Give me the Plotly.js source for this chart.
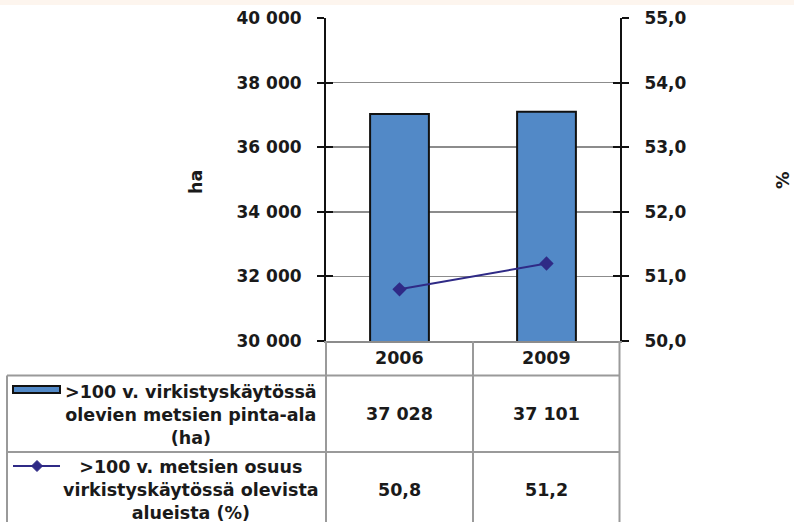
<!DOCTYPE html>
<html>
<head>
<meta charset="utf-8">
<script src="https://cdn.plot.ly/plotly-3.0.1.min.js"></script>
<style>html,body{margin:0;padding:0;background:#fff;}#chart{width:794px;height:522px;}</style>
</head>
<body>
<div id="chart"></div>
<script>
const years = ['2006', '2009'];
const areaHa = [37028, 37101];
const sharePct = [50.8, 51.2];
const areaName = ['>100 v. virkistyskäytössä', 'olevien metsien pinta-ala', '(ha)'];
const shareName = ['>100 v. metsien osuus', 'virkistyskäytössä olevista', 'alueista (%)'];
const leftTitle = 'ha';
const rightTitle = '%';
const leftTicks = [30000, 32000, 34000, 36000, 38000, 40000];
const rightTicks = [50, 51, 52, 53, 54, 55];

const FONT = 'DejaVu Sans, sans-serif';
const TXT = '#1a1a1a';
const BAR = '#5289c7';
const LINE = '#2f2a86';
const GRID = '#8c8c8c';
const TAB = '#9a9a9a';

// pixel frame of plot area
const L = 326, R = 620, T = 18, B = 341;
const px = x => (x - L) / (R - L);
const py = y => (B - y) / (B - T);

function fmtThousands(v) {
  return String(Math.round(v)).replace(/\B(?=(\d{3})+(?!\d))/g, ' ');
}
function fmtDec(v) { return v.toFixed(1).replace('.', ','); }

const traces = [
  { type: 'bar', x: years, y: areaHa, width: 0.4,
    marker: { color: BAR, line: { color: '#111', width: 2 } },
    yaxis: 'y', hoverinfo: 'none', showlegend: false },
  { type: 'scatter', mode: 'lines+markers', x: years, y: sharePct, yaxis: 'y2',
    line: { color: LINE, width: 2 }, marker: { symbol: 'diamond', size: 11, color: LINE },
    hoverinfo: 'none', showlegend: false },
  { type: 'scatter', x: [], y: [], yaxis: 'y3', showlegend: false, hoverinfo: 'none' },
  { type: 'scatter', x: [], y: [], yaxis: 'y4', showlegend: false, hoverinfo: 'none' }
];

const tickFont = { family: FONT, size: 17, color: TXT, weight: 'bold' };

const shapes = [];
function hline(y, x0, x1) {
  shapes.push({ type: 'line', xref: 'paper', yref: 'paper', x0: px(x0), x1: px(x1), y0: py(y), y1: py(y),
    line: { color: TAB, width: 2 }, layer: 'above' });
}
function vline(x, y0, y1, xref) {
  shapes.push({ type: 'line', xref: xref || 'paper', yref: 'paper',
    x0: xref ? x : px(x), x1: xref ? x : px(x), y0: py(y0), y1: py(y1),
    line: { color: TAB, width: 2 }, layer: 'above' });
}
// top tinted strip
shapes.push({ type: 'rect', xref: 'paper', yref: 'paper', x0: px(0), x1: px(794), y0: py(0), y1: py(5),
  fillcolor: '#fdf5ee', line: { width: 0 }, layer: 'below' });
// table grid
hline(375.5, 7, 620);
hline(452, 7, 620);
vline(7, 375.5, 522);
vline(326, 341, 522);
vline(0.5, 341, 522, 'x');
vline(619.5, 341, 522);
// legend symbols
shapes.push({ type: 'rect', xref: 'paper', yref: 'paper', x0: px(13), x1: px(60), y0: py(386), y1: py(393),
  fillcolor: BAR, line: { color: '#111', width: 2 } });
shapes.push({ type: 'line', xref: 'paper', yref: 'paper', x0: px(13), x1: px(60), y0: py(466), y1: py(466),
  line: { color: LINE, width: 2 } });
const dc = [37, 466], dr = 5.5;
shapes.push({ type: 'path', xref: 'paper', yref: 'paper',
  path: `M ${px(dc[0]-dr)} ${py(dc[1])} L ${px(dc[0])} ${py(dc[1]-dr)} L ${px(dc[0]+dr)} ${py(dc[1])} L ${px(dc[0])} ${py(dc[1]+dr)} Z`,
  fillcolor: LINE, line: { color: LINE, width: 1 } });

const annFont = { family: FONT, size: 17.5, color: TXT, weight: 'bold' };
const annotations = [];
function ann(o) {
  annotations.push(Object.assign({ showarrow: false, xanchor: 'center', yanchor: 'middle', font: annFont,
    align: 'center' }, o));
}
years.forEach((yr, i) => {
  ann({ xref: 'x', yref: 'paper', x: i, y: py(358), text: yr });
  ann({ xref: 'x', yref: 'paper', x: i, y: py(414), text: fmtThousands(areaHa[i]) });
  ann({ xref: 'x', yref: 'paper', x: i, y: py(490), text: fmtDec(sharePct[i]) });
});
ann({ xref: 'paper', yref: 'paper', x: px(191), y: py(414.5), text: areaName.join('<br>') });
ann({ xref: 'paper', yref: 'paper', x: px(191), y: py(490), text: shareName.join('<br>') });
ann({ xref: 'paper', yref: 'paper', x: px(196), y: py(182), text: leftTitle, textangle: -90 });
ann({ xref: 'paper', yref: 'paper', x: px(783), y: py(180), text: rightTitle, textangle: -90 });

const layout = {
  width: 794, height: 522,
  margin: { l: L, r: 794 - R, t: T, b: 522 - B, pad: 0 },
  paper_bgcolor: '#fff', plot_bgcolor: '#fff',
  separators: ', ',
  showlegend: false,
  bargap: 0.6,
  xaxis: { type: 'category', range: [-0.5, 1.5], showticklabels: false, ticks: '',
    showgrid: false, zeroline: false, showline: true, linecolor: GRID, linewidth: 2, fixedrange: true },
  yaxis: { range: [30000, 40000], tickvals: leftTicks, tickformat: ',.0f', ticks: 'outside', ticklen: 7,
    tickwidth: 2, tickcolor: '#111', showline: true, linecolor: '#111', linewidth: 2,
    showgrid: true, gridcolor: GRID, gridwidth: 1.5, zeroline: false, tickfont: tickFont,
    ticklabelstandoff: 12, fixedrange: true },
  yaxis2: { range: [50, 55], tickvals: rightTicks, tickformat: '.1f', overlaying: 'y', side: 'right',
    ticks: 'outside', ticklen: 7, tickwidth: 2, tickcolor: '#111', showline: true, linecolor: '#111',
    linewidth: 2, showgrid: false, zeroline: false, tickfont: tickFont, ticklabelstandoff: 12, fixedrange: true },
  yaxis3: { range: [30000, 40000], tickvals: leftTicks, overlaying: 'y', side: 'left', ticks: 'inside',
    ticklen: 7, tickwidth: 2, tickcolor: '#111', showticklabels: false, showgrid: false, zeroline: false,
    showline: false, fixedrange: true },
  yaxis4: { range: [50, 55], tickvals: rightTicks, overlaying: 'y', side: 'right', ticks: 'inside',
    ticklen: 7, tickwidth: 2, tickcolor: '#111', showticklabels: false, showgrid: false, zeroline: false,
    showline: false, fixedrange: true },
  shapes: shapes,
  annotations: annotations
};

Plotly.newPlot('chart', traces, layout, { staticPlot: true, displayModeBar: false });
</script>
</body>
</html>
